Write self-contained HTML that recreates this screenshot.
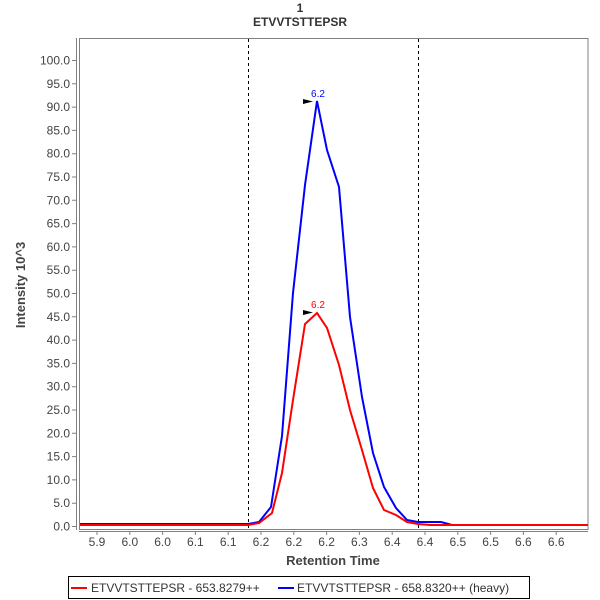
<!DOCTYPE html>
<html><head><meta charset="utf-8"><style>
body{margin:0;background:#fff;}
svg{display:block;font-family:"Liberation Sans","DejaVu Sans",sans-serif;}
</style></head><body>
<svg width="600" height="600" viewBox="0 0 600 600" xmlns="http://www.w3.org/2000/svg">
<rect width="600" height="600" fill="#fff"/>
<text x="300" y="12" text-anchor="middle" font-size="12" font-weight="bold" fill="#333">1</text>
<text x="300" y="26" text-anchor="middle" font-size="12" font-weight="bold" fill="#333">ETVVTSTTEPSR</text>
<rect x="79.5" y="38.5" width="508.5" height="491" fill="#fff" stroke="#808080"/>
<line x1="76.5" y1="38" x2="76.5" y2="530" stroke="#808080"/>
<line x1="79" y1="531.5" x2="588" y2="531.5" stroke="#808080"/>
<g font-size="12" fill="#444" text-anchor="end">
<text x="70" y="64.5">100.0</text><text x="70" y="87.8">95.0</text><text x="70" y="111.1">90.0</text><text x="70" y="134.4">85.0</text><text x="70" y="157.7">80.0</text><text x="70" y="181">75.0</text><text x="70" y="204.3">70.0</text><text x="70" y="227.6">65.0</text><text x="70" y="250.9">60.0</text><text x="70" y="274.2">55.0</text><text x="70" y="297.5">50.0</text><text x="70" y="320.8">45.0</text><text x="70" y="344.1">40.0</text><text x="70" y="367.4">35.0</text><text x="70" y="390.7">30.0</text><text x="70" y="414">25.0</text><text x="70" y="437.3">20.0</text><text x="70" y="460.6">15.0</text><text x="70" y="483.9">10.0</text><text x="70" y="507.2">5.0</text><text x="70" y="530.5">0.0</text>
</g>
<g stroke="#808080">
<path d="M72 60.5h4M72 83.8h4M72 107.1h4M72 130.4h4M72 153.7h4M72 177h4M72 200.3h4M72 223.6h4M72 246.9h4M72 270.2h4M72 293.5h4M72 316.8h4M72 340.1h4M72 363.4h4M72 386.7h4M72 410h4M72 433.3h4M72 456.6h4M72 479.9h4M72 503.2h4M72 526.5h4"/>
<path d="M97 532v3M129.8 532v3M162.6 532v3M195.4 532v3M228.2 532v3M261 532v3M293.8 532v3M326.6 532v3M359.4 532v3M392.2 532v3M425 532v3M457.8 532v3M490.6 532v3M523.4 532v3M556.2 532v3"/>
</g>
<g font-size="12" fill="#444" text-anchor="middle">
<text x="97" y="546">5.9</text><text x="129.8" y="546">6.0</text><text x="162.6" y="546">6.0</text><text x="195.4" y="546">6.1</text><text x="228.2" y="546">6.1</text><text x="261" y="546">6.2</text><text x="293.8" y="546">6.2</text><text x="326.6" y="546">6.2</text><text x="359.4" y="546">6.3</text><text x="392.2" y="546">6.4</text><text x="425" y="546">6.4</text><text x="457.8" y="546">6.5</text><text x="490.6" y="546">6.5</text><text x="523.4" y="546">6.6</text><text x="556.2" y="546">6.6</text>
</g>
<text x="333" y="565" text-anchor="middle" font-size="13" font-weight="bold" fill="#444">Retention Time</text>
<text transform="translate(25 285) rotate(-90)" text-anchor="middle" font-size="13" font-weight="bold" fill="#444">Intensity 10^3</text>
<line x1="248.5" y1="39" x2="248.5" y2="529" stroke="#000" stroke-dasharray="3,3"/>
<line x1="418.5" y1="39" x2="418.5" y2="529" stroke="#000" stroke-dasharray="3,3"/>
<polyline fill="none" stroke="#0000ff" stroke-width="2" points="80,524 248,524 259,522 271,507 282,436 293,293 305,185 317,101 327,150 339,187 350,317 362,397 373,453 384,487 396,508 407,520 418,522 430,522 441,522 452,525 588,525"/>
<polyline fill="none" stroke="#ff0000" stroke-width="2" points="80,525 248,525 259,523 272,513 282,473 293,400 305,324 317,313 327,328 339,365 350,410 362,450 373,488 384,510 396,515 407,522 418,524 430,525 588,525"/>
<polygon points="303,99 303,104 313,101.5" fill="#000"/>
<text x="318" y="97" text-anchor="middle" font-size="10" fill="#0000ff">6.2</text>
<polygon points="303,310 303,315 313,312.5" fill="#000"/>
<text x="318" y="308" text-anchor="middle" font-size="10" fill="#ff0000">6.2</text>
<rect x="68.5" y="576.5" width="461" height="22" fill="#fff" stroke="#000"/>
<line x1="71" y1="588" x2="87" y2="588" stroke="#ff0000" stroke-width="2"/>
<text x="91" y="592" font-size="12" fill="#333">ETVVTSTTEPSR - 653.8279++</text>
<line x1="278" y1="588" x2="294" y2="588" stroke="#0000ff" stroke-width="2"/>
<text x="297" y="592" font-size="12" fill="#333">ETVVTSTTEPSR - 658.8320++ (heavy)</text>
</svg>
</body></html>
